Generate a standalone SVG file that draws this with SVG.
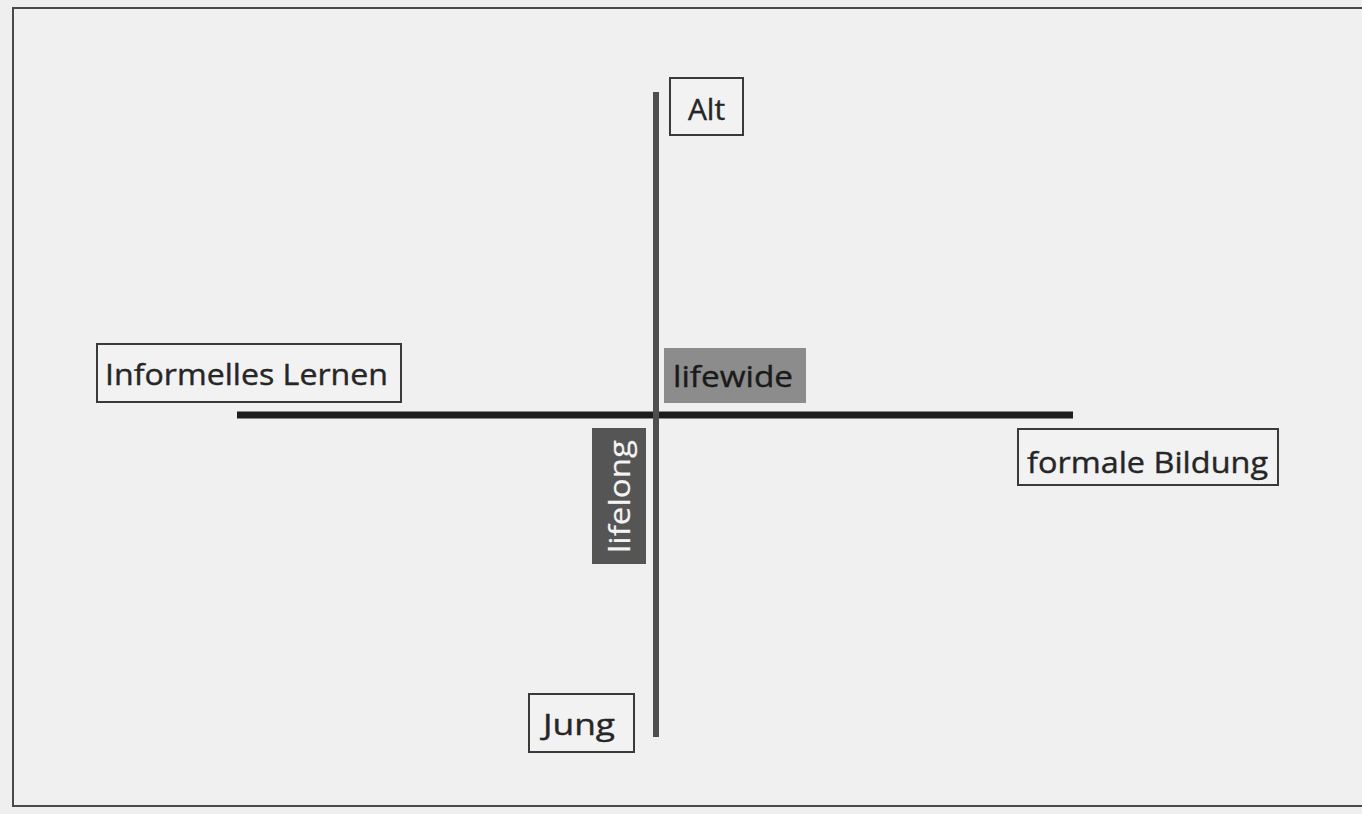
<svg xmlns="http://www.w3.org/2000/svg" width="1362" height="814" viewBox="0 0 1362 814">
<style>
.lbl{fill:#f2f2f2;stroke:#3a3a3a;stroke-width:2}
.t{font-family:"Open Sans","Noto Sans","DejaVu Sans",sans-serif;font-size:30px;fill:#262626;stroke:#262626;stroke-width:0.4}
</style>
<rect x="0" y="0" width="1362" height="814" fill="#efefef"/>
<rect x="13" y="8" width="1400" height="798" fill="#f0f0f0" stroke="#4a4a4a" stroke-width="2"/>
<g id="connectors">
<line x1="237" y1="415" x2="1073" y2="415" stroke="#1e1e1e" stroke-width="7"/>
<line x1="656" y1="92" x2="656" y2="737" stroke="#4e4e4e" stroke-width="6"/>
</g>
<g id="alt">
<rect class="lbl" x="670" y="78" width="73" height="57"/>
<text class="t" x="706.5" y="120" text-anchor="middle">Alt</text>
</g>
<g id="informelles">
<rect class="lbl" x="97" y="344" width="304" height="58"/>
<text class="t" x="246.5" y="385" text-anchor="middle" textLength="283" lengthAdjust="spacingAndGlyphs">Informelles Lernen</text>
</g>
<g id="lifewide">
<rect x="664" y="348" width="142" height="55" fill="#8c8c8c"/>
<text class="t" x="733" y="387" text-anchor="middle" textLength="120" lengthAdjust="spacingAndGlyphs" style="fill:#1a1a1a;stroke:#1a1a1a">lifewide</text>
</g>
<g id="lifelong">
<rect x="592" y="428" width="54" height="136" fill="#555555"/>
<text class="t" transform="translate(630,496.5) rotate(-90)" x="0" y="0" text-anchor="middle" textLength="113" lengthAdjust="spacingAndGlyphs" style="fill:#f4f4f4;stroke:#f4f4f4;stroke-width:0.2">lifelong</text>
</g>
<g id="formale">
<rect class="lbl" x="1018" y="429" width="260" height="56"/>
<text class="t" x="1147.5" y="473" text-anchor="middle" textLength="241" lengthAdjust="spacingAndGlyphs">formale Bildung</text>
</g>
<g id="jung">
<rect class="lbl" x="529" y="694" width="105" height="58"/>
<text class="t" x="579" y="735" text-anchor="middle" textLength="72" lengthAdjust="spacingAndGlyphs">Jung</text>
</g>
</svg>
